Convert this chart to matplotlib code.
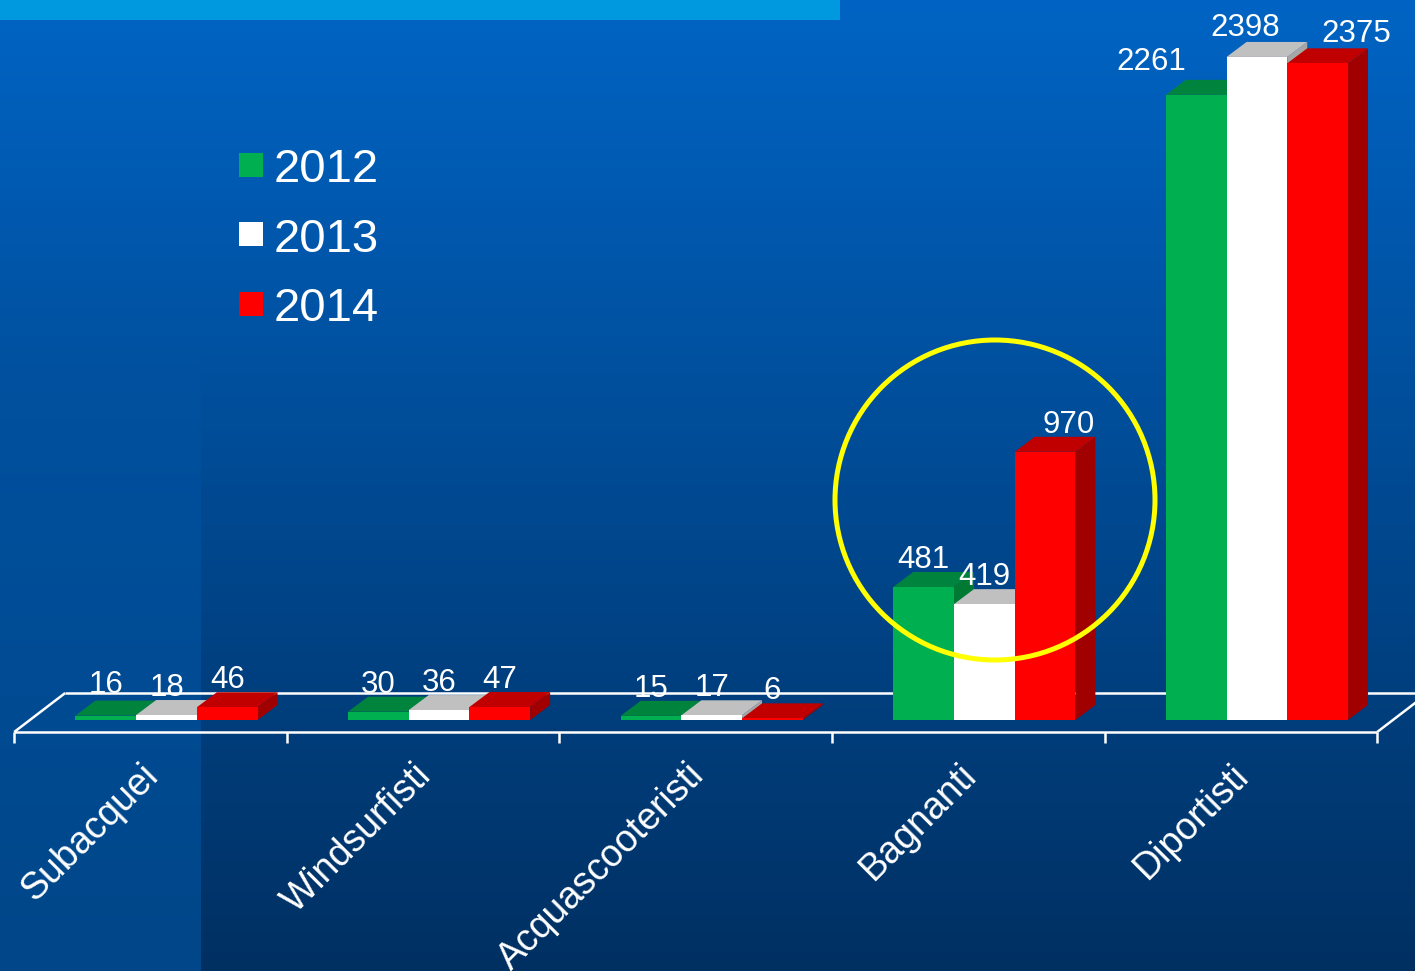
import numpy as np
import matplotlib.pyplot as plt
from matplotlib.patches import Polygon, Rectangle, Circle

plt.rcParams['font.family'] = ['Liberation Sans', 'DejaVu Sans']

# data
categories = ['Subacquei', 'Windsurfisti', 'Acquascooteristi', 'Bagnanti', 'Diportisti']
years = ['2012', '2013', '2014']
v2012 = [16, 30, 15, 481, 2261]
v2013 = [18, 36, 17, 419, 2398]
v2014 = [46, 47, 6, 970, 2375]
series = [v2012, v2013, v2014]

front_colors = ['#00B050', '#FFFFFF', '#FF0000']
top_colors = ['#00843D', '#C0C0C0', '#C00000']
side_colors = ['#007A33', '#A6A6A6', '#A00000']

# label nudges in pixels (dx, dy) where PowerPoint moved labels apart
label_nudge = {(3, 2): (24, 0), (4, 0): (-45, 6), (4, 1): (-12, 2), (4, 2): (39, 2),
               (0, 0): (0, 4)}

W, H = 1415, 971
fig = plt.figure(figsize=(W / 100, H / 100), dpi=100)

# ---- background (pixel coordinates) ----
bg = fig.add_axes([0, 0, 1, 1])
rows = np.linspace(0, H, 512)
top_c = np.array([0, 100, 196]) / 255
bot_c = np.array([0, 48, 98]) / 255
main = np.stack([np.interp(rows, [0, H], [a, b]) for a, b in zip(top_c, bot_c)], axis=-1)
bg.imshow(main[:, None, :], extent=[0, W, H, 0], aspect='auto')
band_bot = np.array([0, 70, 136]) / 255
mid = top_c + (bot_c - top_c) * 350 / H
band = np.stack([np.interp(rows, [0, 350, H], [a, m, b])
                 for a, m, b in zip(top_c, mid, band_bot)], axis=-1)
bg.imshow(band[:, None, :], extent=[0, 201, H, 0], aspect='auto')
bg.add_patch(Rectangle((0, 0), 840, 20, color='#0098DE', lw=0))
bg.set_xlim(0, W)
bg.set_ylim(H, 0)
bg.axis('off')

# legend
for k, (yr, c) in enumerate(zip(years, front_colors)):
    yc = 165 + 69.5 * k
    bg.add_patch(Rectangle((239, yc - 12), 24, 24, color=c, lw=0))
    bg.text(274, yc + 17, yr, color='white', fontsize=34, va='baseline', ha='left')

# ---- chart axes: x in category units, y in values ----
ax = fig.add_axes([0, 0, 1, 1])
ax.patch.set_alpha(0)
ax.axis('off')
sx, sy = 272.6, 0.2765      # pixels per category, pixels per unit
x0, y0 = 150.5, 720         # pixel of category 0 centre, pixel of value 0
ax.set_xlim(-x0 / sx, (W - x0) / sx)
ax.set_ylim((y0 - H) / sy, y0 / sy)


def dx(p):
    return p / sx


def dy(p):
    return p / sy


n = len(categories)
# floor
f_front, f_back = dy(-12), dy(27)
fd = dx(51)
floor_kw = dict(color='white', lw=1.8, solid_capstyle='butt', zorder=1)
ax.plot([-0.5, n - 0.5], [f_front, f_front], **floor_kw)
ax.plot([-0.5 + fd, n - 0.5 + fd], [f_back, f_back], **floor_kw)
ax.plot([-0.5, -0.5 + fd], [f_front, f_back], **floor_kw)
ax.plot([n - 0.5, n - 0.5 + fd], [f_front, f_back], **floor_kw)
for i in range(n + 1):
    ax.plot([i - 0.5, i - 0.5], [f_front, f_front - dy(11)], **floor_kw)

# 3D bars
bw = dx(60.7)
ddx, ddy = dx(20), dy(15)
for i in range(n):
    for j, vals in enumerate(series):
        v = vals[i]
        left = i + dx(16) + (j - 1.5) * bw
        right = left + bw
        ax.add_patch(Polygon([(right, 0), (right + ddx, ddy), (right + ddx, v + ddy), (right, v)],
                             closed=True, color=side_colors[j], lw=0, zorder=3))
        ax.add_patch(Polygon([(left, v), (right, v), (right + ddx, v + ddy), (left + ddx, v + ddy)],
                             closed=True, color=top_colors[j], lw=0, zorder=3))
        ax.add_patch(Rectangle((left, 0), bw, v, color=front_colors[j], lw=0, zorder=3))
        nx, ny = label_nudge.get((i, j), (0, 0))
        ax.text(left + bw / 2 + dx(nx), v + ddy + dy(4 + ny), str(v), color='white',
                fontsize=22.5, ha='center', va='baseline', zorder=5)

# category labels
for i, cat in enumerate(categories):
    ax.text(i - dx(10), dy(y0 - 757), cat, color='white', fontsize=27, rotation=45,
            rotation_mode='anchor', ha='right', va='top')

# highlight circle (pixel position converted to inches)
fig.add_artist(Circle((995 / 100, (H - 500) / 100), 1.6, transform=fig.dpi_scale_trans,
                      fill=False, edgecolor='#FFFF00', lw=3.6, zorder=10))

fig.savefig('out.png', dpi=100)
